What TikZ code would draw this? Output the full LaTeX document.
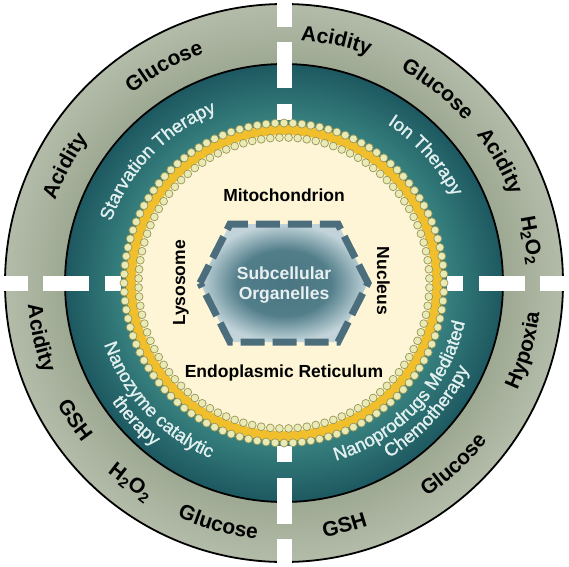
\documentclass[tikz,border=0pt]{standalone}
\usepackage{fontspec}
\setmainfont{Liberation Sans}
\newfontfamily\tealfamily[FakeBold=1.2]{Liberation Sans}
\usetikzlibrary{decorations.text}
\definecolor{grayA}{HTML}{9DA892}
\definecolor{grayB}{HTML}{B3BCA9}
\definecolor{tealA}{HTML}{37807E}
\definecolor{tealB}{HTML}{1D5860}
\definecolor{cream}{HTML}{FDF5D6}
\definecolor{goldband}{HTML}{F1BF2C}
\definecolor{lipidfill}{HTML}{EAEBB4}
\definecolor{lipidline}{HTML}{98965A}
\definecolor{hexA}{HTML}{4A7683}
\definecolor{hexB}{HTML}{527E8A}
\definecolor{hexC}{HTML}{C2D4DA}
\definecolor{hexline}{HTML}{4B6D7C}
\definecolor{tealtext}{HTML}{E3F0F0}
\definecolor{subtext}{HTML}{E8EFF1}
\pgfdeclareradialshading{grayring}{\pgfpoint{0bp}{0bp}}{color(0bp)=(grayA); color(19.5bp)=(grayA); color(25bp)=(grayB); color(50bp)=(grayB)}
\pgfdeclareradialshading{tealring}{\pgfpoint{0bp}{0bp}}{color(0bp)=(tealA); color(18.5bp)=(tealA); color(25bp)=(tealB); color(50bp)=(tealB)}
\pgfdeclareradialshading{hexshade}{\pgfpoint{0bp}{0bp}}{color(0bp)=(hexA); color(14bp)=(hexB); color(25bp)=(hexC); color(50bp)=(hexC)}
\newcommand\ofont{\fontsize{21}{21}\selectfont\bfseries}
\newcommand\tfont{\tealfamily\fontsize{18.5}{18.5}\selectfont\color{tealtext}}
\newcommand\ArcTop[4]{\path[decorate,decoration={text along path,text align=center,text={#4}}] (#1+#3:#2) arc[start angle=#1+#3,end angle=#1-#3,radius=#2];}
\newcommand\ArcBot[4]{\path[decorate,decoration={text along path,text align=center,text={#4}}] (#1-#3:#2) arc[start angle=#1-#3,end angle=#1+#3,radius=#2];}
\tikzset{
  ring line/.style={line width=1.8pt, black},
  gapbar/.style={fill=white},
  lipid/.style={fill=lipidfill, draw=lipidline, line width=0.7pt},
  hexfill/.style={shading=hexshade},
  hexedge/.style={draw=hexline, line width=7pt, dash pattern=on 24pt off 8pt, dash phase=4pt},
  lab/.style={font=\fontsize{17.5}{20}\selectfont\bfseries, text=black, inner sep=0pt},
  sub/.style={font=\fontsize{17.5}{20}\selectfont\bfseries, text=subtext, align=center, inner sep=0pt},
  chem/.style={font=\ofont, text=black, inner sep=0pt}
}
\begin{document}
\begin{tikzpicture}[x=1pt,y=1pt]
\useasboundingbox (-284,-283) rectangle (285,283);
\fill[white] (-284,-283) rectangle (285,283);
% rings
\shade[shading=grayring] (0,0) circle[radius=279];
\shade[shading=tealring] (0,0) circle[radius=219];
\draw[ring line] (0,0) circle[radius=279];
\draw[ring line] (0,0) circle[radius=219];
\fill[goldband] (0,0) circle[radius=158];
\fill[cream] (0,0) circle[radius=148];
% white gaps
\foreach \r in {0,90,180,270}{
  \begin{scope}[rotate=\r]
    \fill[gapbar] (163,-7.5) rectangle (179,7.5);
    \fill[gapbar] (195,-7.5) rectangle (241,7.5);
    \fill[gapbar] (256,-7.5) rectangle (286,7.5);
  \end{scope}
}
% lipid bilayer
\foreach \i in {0,...,111}{\filldraw[lipid] (\i*3.214286:160) circle[radius=4];}
\foreach \i in {0,...,99}{\filldraw[lipid] (\i*3.6+1.8:145.5) circle[radius=3.9];}
% hexagon
\coordinate (h1) at (-84,0);
\coordinate (h2) at (-54,59);
\coordinate (h3) at (54,59);
\coordinate (h4) at (84,0);
\coordinate (h5) at (54,-59);
\coordinate (h6) at (-54,-59);
\shade[hexfill] (h1) -- (h2) -- (h3) -- (h4) -- (h5) -- (h6) -- cycle;
\draw[hexedge] (h1) -- (h2) -- (h3) -- (h4) -- (h5) -- (h6) -- cycle;
\node[sub] (subcell) at (0,-2) {Subcellular\\Organelles};
% organelle labels
\node[lab, anchor=base] (mito) at (0,82) {Mitochondrion};
\node[lab, anchor=base] (er) at (0,-94) {Endoplasmic Reticulum};
\node[lab, rotate=90, anchor=base] (lyso) at (-99,0) {Lysosome};
\node[lab, rotate=-90, anchor=base] (nuc) at (93,2) {Nucleus};
% outer ring words
\ArcTop{152}{243}{25}{|\ofont|Acidity}
\ArcTop{119}{243}{25}{|\ofont|Glucose}
\ArcTop{77.8}{243}{25}{|\ofont|Acidity}
\ArcTop{51.6}{243}{25}{|\ofont|Glucose}
\ArcTop{29.4}{243}{25}{|\ofont|Acidity}
\node[chem, rotate=-80.2] (h2oa) at (9.8:250) {H\textsubscript{2}O\textsubscript{2}};
\ArcBot{192.7}{257}{25}{|\ofont|Acidity}
\ArcBot{213.2}{257}{25}{|\ofont|GSH}
\node[chem, rotate=-37.6] (h2ob) at (232.4:252) {H\textsubscript{2}O\textsubscript{2}};
\ArcBot{254.7}{257}{25}{|\ofont|Glucose}
\ArcBot{284}{257}{25}{|\ofont|GSH}
\ArcBot{313}{257}{25}{|\ofont|Glucose}
\ArcBot{344.3}{257}{25}{|\ofont|Hypoxia}
% therapy ring
\ArcTop{136}{183.5}{45}{|\tfont|Starvation Therapy}
\ArcTop{42}{189.5}{45}{|\tfont|Ion Therapy}
\ArcBot{223}{190}{45}{|\tfont|Nanozyme catalytic}
\ArcBot{223}{209}{45}{|\tfont|therapy}
\ArcBot{317}{185}{45}{|\tfont|Nanoprodrugs Mediated}
\ArcBot{318}{204}{45}{|\tfont|Chemotherapy}
\end{tikzpicture}
\end{document}
